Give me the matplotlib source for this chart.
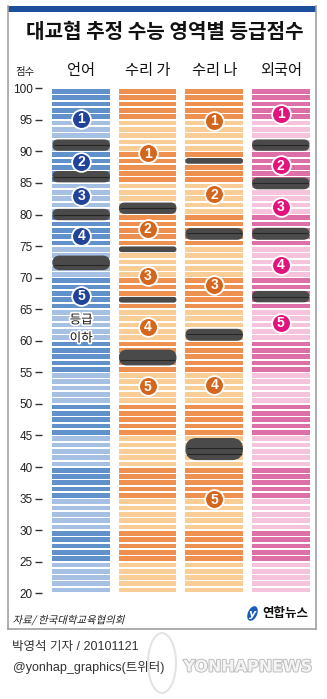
import numpy as np
import matplotlib

matplotlib.use("Agg")
import matplotlib.pyplot as plt
from matplotlib.patches import FancyBboxPatch, Rectangle, Ellipse, Circle, PathPatch
from matplotlib.lines import Line2D
from matplotlib.textpath import TextPath
from matplotlib.font_manager import FontProperties
from matplotlib.transforms import Affine2D
import matplotlib.patheffects as pe

plt.rcParams["font.family"] = ["Noto Sans CJK KR", "DejaVu Sans"]
MIXED = ["Liberation Sans", "Noto Sans CJK KR"]

W, H = 327, 699

subjects = ["언어", "수리 가", "수리 나", "외국어"]
score_ticks = [100, 95, 90, 85, 80, 75, 70, 65, 60, 55, 50, 45, 40, 35, 30, 25, 20]

# estimated grade-cut bands (low, high score) per subject
cut_lo = [
    [90.1, 85.1, 79.1, 71.2],
    [80.1, 74.05, 66.05, 56.1],
    [88.05, 76.0, 60.0, 41.1],
    [90.1, 84.0, 76.0, 66.1],
]
cut_hi = [
    [91.9, 86.9, 80.9, 73.5],
    [81.9, 74.95, 66.95, 58.6],
    [88.95, 77.85, 61.9, 44.6],
    [91.9, 85.85, 77.9, 67.9],
]

# where the grade badges 1..5 sit on the score scale
grade_pos = [
    [95.2, 88.3, 83.0, 76.6, 67.1],
    [89.7, 77.7, 70.3, 62.2, 52.8],
    [94.8, 83.2, 68.9, 53.0, 34.9],
    [95.9, 87.8, 81.2, 72.0, 62.8],
]

dark_col = ["#6191cb", "#ee9150", "#ee9150", "#dd70a6"]
light_col = ["#a5c0e3", "#f9cd96", "#f9cd96", "#f6c3dc"]
badge_col = ["#21449a", "#d5661d", "#d5661d", "#e2137d"]


def fx(x):
    return x / W


def fy(y):
    return 1 - y / H


fig = plt.figure(figsize=(W / 100, H / 100), dpi=100)
fig.patch.set_facecolor("white")

# plotting area: 42..312 px wide, score 100 at y=88.3, 20 at y=593.3
ax = fig.add_axes([fx(42), fy(593.3), (312 - 42) / W, (593.3 - 88.3) / H])
x_left, x_right = -0.589, 3.47
ax.set_xlim(x_left, x_right)
ax.set_ylim(20, 100)
for s in ax.spines.values():
    s.set_visible(False)
ax.set_xticks([])
ax.set_yticks(score_ticks)
ax.set_yticklabels([str(t) for t in score_ticks], fontsize=8.5, color="#222222",
                   family=MIXED)
ax.tick_params(axis="y", length=5, width=1, color="#333333", pad=1.5)
ax.patch.set_alpha(0)

bar_w = 0.865
gap = 0.26
stripes = np.arange(20, 100)

for i in range(len(subjects)):
    colors = [dark_col[i] if ((s - 20) // 5) % 2 == 1 else light_col[i] for s in stripes]
    ax.bar(np.full(len(stripes), i), 1 - gap, bottom=stripes + gap / 2,
           width=bar_w, color=colors, linewidth=0, zorder=1)

# aspect between y and x data units on screen, for round pill ends
bb = ax.get_position()
x_per_px = (x_right - x_left) / (bb.width * W)
y_per_px = 80 / (bb.height * H)
aspect = y_per_px / x_per_px

for i in range(len(subjects)):
    x0 = i - bar_w / 2
    for lo, hi in zip(cut_lo[i], cut_hi[i]):
        h = hi - lo
        pill = FancyBboxPatch(
            (x0, lo), bar_w, h,
            boxstyle=f"round,pad=0,rounding_size={h / 2 / aspect}",
            mutation_aspect=aspect,
            facecolor="#4a4a4a", edgecolor="none", zorder=3,
        )
        ax.add_patch(pill)
        for k in range(int(np.ceil(lo + 0.65)), int(np.floor(hi - 0.65)) + 1):
            ax.hlines(k, x0 + 0.02, x0 + bar_w - 0.02, color="#262626",
                      lw=0.8, zorder=4)

    for g, yv in enumerate(grade_pos[i], start=1):
        ax.plot(i, yv, "o", ms=13.5, mfc=badge_col[i], mec="white", mew=1.3,
                zorder=5)
        ax.text(i, yv - 0.05, str(g), ha="center", va="center", color="white",
                fontsize=10, fontweight="bold", family=MIXED, zorder=6)

outline = [pe.withStroke(linewidth=2.5, foreground="white")]
ax.text(0, 63.3, "등급", ha="center", va="center", fontsize=9, color="#111111",
        path_effects=outline, zorder=6)
ax.text(0, 60.4, "이하", ha="center", va="center", fontsize=9, color="#111111",
        path_effects=outline, zorder=6)

# column headers
for i, name in enumerate(subjects):
    fig.text(fx(81.2 + 66.5 * i), fy(70), name, ha="center", va="center",
             fontsize=11, color="#111111")
fig.text(fx(25), fy(72), "점수", ha="center", va="center", fontsize=7.5,
         color="#222222")

# title and frame
fig.text(fx(165), fy(32), "대교협 추정 수능 영역별 등급점수", ha="center",
         va="center", fontsize=14.5, fontweight="bold", color="#111111")
fig.patches.append(Rectangle((fx(8), fy(12)), fx(316) - fx(8), fy(6) - fy(12),
                             transform=fig.transFigure, facecolor="#1d4f9c",
                             edgecolor="none"))
frame_kw = dict(transform=fig.transFigure, color="#a0a0a0", lw=1.2)
fig.lines.append(Line2D([fx(8), fx(8)], [fy(6), fy(629)], **frame_kw))
fig.lines.append(Line2D([fx(316), fx(316)], [fy(6), fy(629)], **frame_kw))
fig.lines.append(Line2D([fx(8), fx(316)], [fy(629), fy(629)], **frame_kw))

# slanted source line (the CJK font has no italic face)
src = TextPath((0, 0), "자료/ 한국대학교육협의회", size=7.5,
               prop=FontProperties(family="Noto Sans CJK KR"))
src_tf = (Affine2D().skew_deg(14, 0).scale(1 / 72)
          .translate(12.5 / 100, (H - 623.5) / 100) + fig.dpi_scale_trans)
fig.patches.append(PathPatch(src, transform=src_tf, facecolor="#222222",
                             edgecolor="none"))

# agency mark
fig.patches.append(Ellipse((fx(252.5), fy(613.5)), 11 / W, 13 / H, angle=20,
                           transform=fig.transFigure, facecolor="#1a5bb5",
                           edgecolor="none"))
fig.text(fx(252.5), fy(614), "y", ha="center", va="center", fontsize=8,
         color="white", fontweight="bold", style="italic", family="DejaVu Sans")
fig.text(fx(285), fy(613.5), "연합뉴스", ha="center", va="center", fontsize=9,
         fontweight="bold", color="#111111")

fig.text(fx(12.5), fy(647), "박영석 기자 / 20101121", ha="left", va="center",
         fontsize=9, color="#333333", family=MIXED)
fig.text(fx(12.5), fy(667), "@yonhap_graphics(트위터)", ha="left", va="center",
         fontsize=9, color="#333333", family=MIXED)

# faint watermark
fig.patches.append(Circle((fx(162), fy(663)), 14 / W, transform=fig.transFigure,
                          facecolor="none", edgecolor="#e4e4e4", lw=1.5))
fig.text(fx(248), fy(667), "YONHAPNEWS", ha="center", va="center",
         fontsize=11.5, fontweight="bold", color="#f4f4f4", family="DejaVu Sans",
         path_effects=[pe.withStroke(linewidth=1.4, foreground="#bdbdbd")])

fig.savefig("out.png", dpi=100)
plt.close(fig)
